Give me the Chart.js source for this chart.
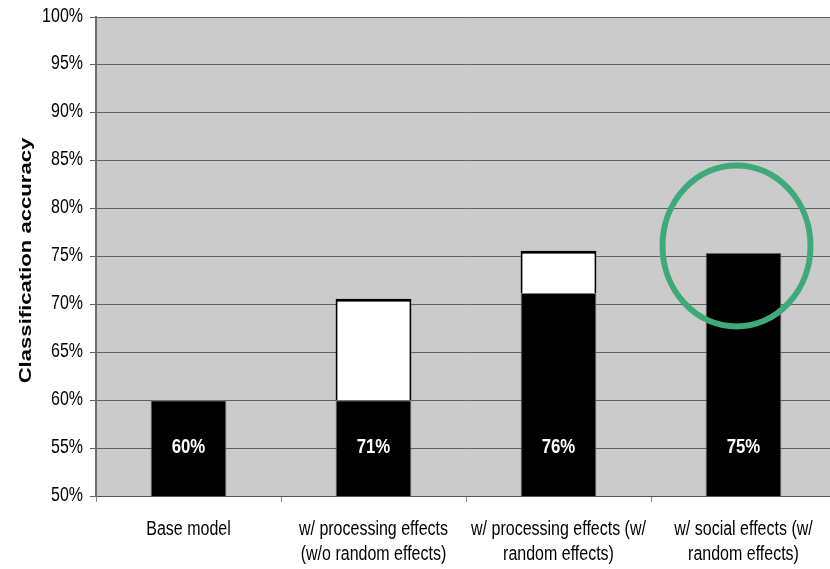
<!DOCTYPE html>
<html>
<head>
<meta charset="utf-8">
<script src="https://cdn.jsdelivr.net/npm/chart.js@4/dist/chart.umd.min.js"></script>
<style>
  html, body { margin: 0; padding: 0; background: #fff; overflow: hidden; width: 830px; height: 569px; }
  #wrap { width: 850px; height: 569px; }
</style>
</head>
<body>
<div id="wrap"><canvas id="chart" width="850" height="569"></canvas></div>
<script>
// Model variants on the x axis (multi-line labels)
const categories = [
  ['Base model'],
  ['w/ processing effects', '(w/o random effects)'],
  ['w/ processing effects (w/', 'random effects)'],
  ['w/ social effects (w/', 'random effects)']
];
// Accuracy of the underlying model (black part) and the gain on top (white part), in %
const baseAccuracy = [60, 60, 71.2, 75.4];
const addedAccuracy = [0, 10.6, 4.4, 0];
// Y axis range and step, in %
const yTicks = [50, 55, 60, 65, 70, 75, 80, 85, 90, 95, 100];

const FONT = "'Liberation Sans', Arial, sans-serif";
const NARROW = 0.8; // horizontal squeeze for the condensed lettering

// draw a string horizontally condensed
function narrowText(ctx, text, x, y, squeeze) {
  ctx.save();
  ctx.translate(x, y);
  ctx.scale(squeeze, 1);
  ctx.fillText(text, 0, 0);
  ctx.restore();
}

// Gray plot background
const plotBackground = {
  id: 'plotBackground',
  beforeDraw(chart) {
    const { ctx, chartArea: a } = chart;
    ctx.save();
    ctx.fillStyle = '#cbcbcb';
    ctx.fillRect(a.left, a.top, a.right - a.left, a.bottom - a.top);
    ctx.restore();
  }
};

// White value labels inside the bars, and the highlight ring around the last bar
const barLabels = {
  id: 'barLabels',
  afterDatasetsDraw(chart) {
    const { ctx, scales } = chart;
    const meta = chart.getDatasetMeta(0);
    ctx.save();
    ctx.fillStyle = '#ffffff';
    ctx.font = 'bold 20px ' + FONT;
    ctx.textAlign = 'center';
    ctx.textBaseline = 'middle';
    const y = scales.y.getPixelForValue(55) - 1;
    meta.data.forEach((bar, i) => {
      const total = baseAccuracy[i] + addedAccuracy[i];
      narrowText(ctx, Math.round(total) + '%', bar.x, y, 0.84);
    });

    // ring around the best model
    const last = meta.data[meta.data.length - 1];
    const cy = scales.y.getPixelForValue(76.1);
    ctx.beginPath();
    ctx.ellipse(last.x - 7, cy, 74, 80.5, 0, 0, Math.PI * 2);
    ctx.strokeStyle = '#3daa78';
    ctx.lineWidth = 6;
    ctx.stroke();
    ctx.restore();
  }
};

// Axis lettering: tick values, category names and the rotated y title
const axisText = {
  id: 'axisText',
  afterDraw(chart) {
    const { ctx, chartArea: a, scales } = chart;
    ctx.save();
    ctx.fillStyle = '#000';

    // y tick values
    ctx.font = '20px ' + FONT;
    ctx.textAlign = 'right';
    ctx.textBaseline = 'middle';
    scales.y.ticks.forEach(t => {
      narrowText(ctx, t.value + '%', a.left - 13, scales.y.getPixelForValue(t.value) - 1, NARROW);
    });

    // category names, one or two lines each
    ctx.textAlign = 'center';
    ctx.textBaseline = 'alphabetic';
    chart.data.labels.forEach((lines, i) => {
      const x = scales.x.getPixelForValue(i);
      lines.forEach((line, j) => {
        narrowText(ctx, line, x, a.bottom + 39 + j * 25, NARROW);
      });
    });

    // y axis title
    ctx.translate(26, (a.top + a.bottom) / 2 + 4);
    ctx.rotate(-Math.PI / 2);
    ctx.scale(1.3, 1);
    ctx.font = 'bold 17px ' + FONT;
    ctx.textAlign = 'center';
    ctx.textBaseline = 'middle';
    ctx.fillText('Classification accuracy', 0, 0);
    ctx.restore();
  }
};

new Chart(document.getElementById('chart'), {
  type: 'bar',
  data: {
    labels: categories,
    datasets: [
      {
        data: baseAccuracy,
        backgroundColor: '#000000',
        borderColor: '#7a7a7a',
        borderWidth: 1,
        borderSkipped: 'bottom',
        categoryPercentage: 1,
        barPercentage: 0.41
      },
      {
        data: addedAccuracy,
        backgroundColor: '#ffffff',
        borderColor: '#000000',
        borderWidth: { top: 3, left: 2, right: 2, bottom: 0 },
        borderSkipped: false,
        categoryPercentage: 1,
        barPercentage: 0.41
      }
    ]
  },
  options: {
    responsive: false,
    animation: false,
    layout: { padding: { top: 17, right: 14, left: 0, bottom: 0 } },
    plugins: {
      legend: { display: false },
      tooltip: { enabled: false },
      title: { display: false }
    },
    scales: {
      x: {
        stacked: true,
        grid: {
          offset: true,
          drawOnChartArea: false,
          drawTicks: true,
          tickLength: 6,
          color: '#8a8a8a'
        },
        border: { display: true, color: '#555555', width: 1 },
        ticks: { display: false, autoSkip: false },
        afterFit(scale) { scale.height = 73; }
      },
      y: {
        stacked: true,
        min: yTicks[0],
        max: yTicks[yTicks.length - 1],
        afterBuildTicks(scale) { scale.ticks = yTicks.map(v => ({ value: v })); },
        grid: {
          color: '#606060',
          lineWidth: 1,
          tickLength: 6,
          drawTicks: true
        },
        border: { display: true, color: '#6e6e6e', width: 2 },
        ticks: { display: false },
        afterFit(scale) { scale.width = 96; }
      }
    }
  },
  plugins: [plotBackground, barLabels, axisText]
});
</script>
</body>
</html>
